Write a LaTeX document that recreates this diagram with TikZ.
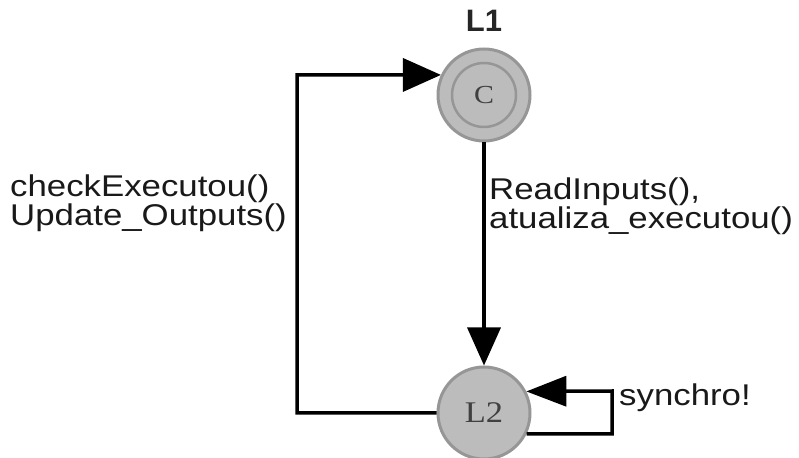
\documentclass[tikz,border=0pt]{standalone}
\usepackage{fontspec}
\setmainfont{Liberation Sans}
\newfontfamily\edgefont[FakeStretch=1.16]{Liberation Sans}
\newfontfamily\locfont[FakeStretch=1.15]{Liberation Serif}
\usetikzlibrary{positioning,arrows.meta}
\definecolor{locfill}{RGB}{188,188,188}
\definecolor{locdraw}{RGB}{150,150,150}

\begin{document}
\begin{tikzpicture}[
        x=1pt, y=1pt,
        location/.style={circle, draw=locdraw, fill=locfill, line width=3pt, minimum size=92pt, inner sep=0pt, font=\locfont\fontsize{30}{30}\selectfont, text=black!75},
        committed/.style={circle, draw=locdraw, line width=2.5pt, minimum size=64pt, inner sep=0pt, font=\locfont\fontsize{26}{26}\selectfont, text=black!75},
        edge/.style={draw, line width=3.5pt, -{Triangle[length=38pt, width=33pt]}},
        guard/.style={font=\edgefont\fontsize{30}{26}\selectfont, text=black!90, align=left, inner sep=0pt}
    ]
    \useasboundingbox (0,0) rectangle (799,457);

    % --- Locations ---
    \node[location] (L1) at (484,362) {};
    \node[committed] (L1in) at (L1.center) {C};
    \node[location] (L2) at (484,44) {L2};
    \node[font=\bfseries\fontsize{31}{31}\selectfont, text=black!85, above=12pt of L1] (L1name) {L1};

    % --- Corners of the edges ---
    \coordinate (backCorner) at (297,382);
    \coordinate (selfCorner) at (612,66);

    % --- Edges ---
    \draw[edge] (L1) -- (L2);
    \draw[edge] (L2.west) -| (backCorner) -- (L1.155);
    \draw[edge, -{Triangle[length=40pt, width=30pt]}] (L2.-26) -| (selfCorner) -- (L2.27);

    % Edge labels
    \node[guard, anchor=west] (backLabel) at (10,254) {checkExecutou()\\Update\_Outputs()};
    \node[guard, anchor=west] (downLabel) at (489,251) {ReadInputs(),\\atualiza\_executou()};
    \node[guard, anchor=west] (selfLabel) at (619,59) {synchro!};

\end{tikzpicture}
\end{document}
